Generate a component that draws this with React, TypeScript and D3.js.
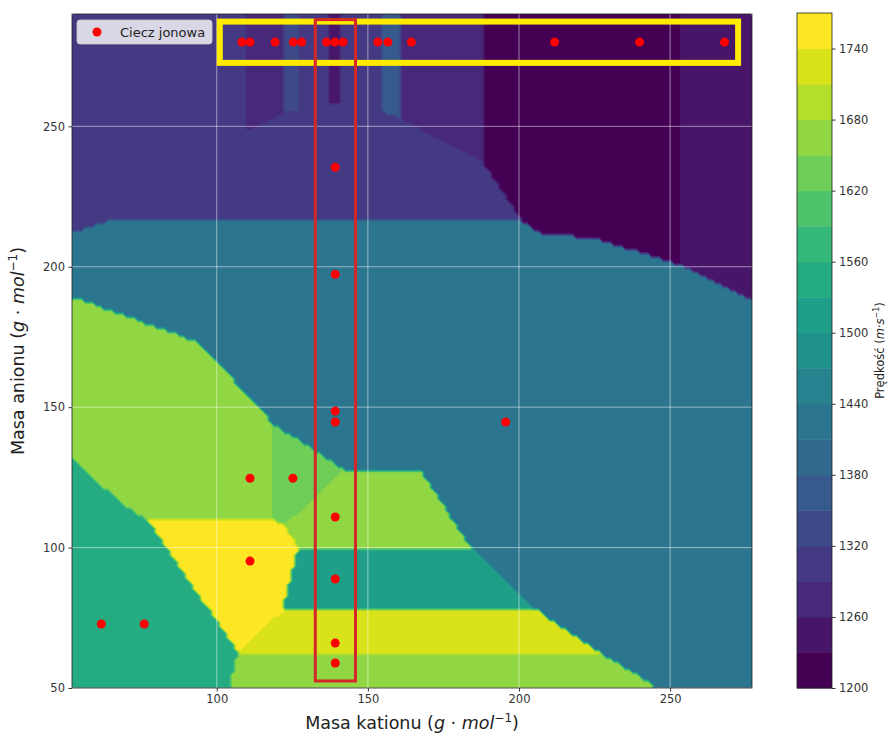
import React, { useEffect, useRef } from 'react';
import * as d3 from 'd3';

// ionic liquids: cation mass, anion mass, speed of sound
const cationMass = [
  108.3, 111.0, 119.3, 125.3, 128.1, 136.3, 139.1, 141.8, 153.3, 156.6, 164.4, 211.8, 239.9, 268.0,
  139.2, 139.2, 139.2, 139.2, 195.6, 139.2, 111.0, 125.2, 111.0, 139.2, 139.2, 139.2, 61.8, 76.0,
];
const anionMass = [
  280, 280, 280, 280, 280, 280, 280, 280, 280, 280, 280, 280, 280, 280,
  235.4, 197.3, 148.6, 144.7, 144.7, 110.9, 124.7, 124.7, 95.2, 88.8, 66.0, 58.9, 72.8, 72.8,
];
const speed = [
  1305, 1275, 1275, 1335, 1305, 1305, 1245, 1305, 1305, 1365, 1275, 1215, 1215, 1245,
  1305, 1425, 1425, 1425, 1425, 1665, 1665, 1635, 1755, 1515, 1725, 1665, 1545, 1545,
];

const levels = d3.range(1200, 1771, 30);
const colorbarTicks = [1200, 1260, 1320, 1380, 1440, 1500, 1560, 1620, 1680, 1740];
const xTicks = [100, 150, 200, 250];
const yTicks = [50, 100, 150, 200, 250];

// highlighted groups (data units)
const anionBox = { x0: 101, x1: 272.5, y0: 272.6, y1: 287.3 };
const cationBox = { x0: 132.6, x1: 145.9, y0: 52.5, y1: 288 };

const FONT = 'DejaVu Sans, sans-serif';

const App = () => {
  const ref = useRef<SVGSVGElement>(null);

  useEffect(() => {
    const svg = d3.select(ref.current);
    svg.selectAll('*').remove();

    const left = 72, right = 752, top = 14, bottom = 688;
    const x = d3.scaleLinear().domain([52.1, 277.1]).range([left, right]);
    const y = d3.scaleLinear().domain([50, 290]).range([bottom, top]);

    // nearest neighbour grid (like griddata method='nearest')
    const nx = 180, ny = 180;
    const values: number[] = new Array(nx * ny);
    for (let j = 0; j < ny; j++) {
      const yv = y.invert(top + ((j + 0.5) * (bottom - top)) / ny);
      for (let i = 0; i < nx; i++) {
        const xv = x.invert(left + ((i + 0.5) * (right - left)) / nx);
        let best = Infinity, v = speed[0];
        for (let k = 0; k < speed.length; k++) {
          const d = (cationMass[k] - xv) ** 2 + (anionMass[k] - yv) ** 2;
          if (d < best) { best = d; v = speed[k]; }
        }
        values[j * nx + i] = v;
      }
    }
    const bands = d3.contours().size([nx, ny]).thresholds(levels.slice(0, -1))(values);
    const color = (i: number) => d3.interpolateViridis(i / (levels.length - 2));

    svg.append('g')
      .attr('transform', `translate(${left},${top}) scale(${(right - left) / nx},${(bottom - top) / ny})`)
      .selectAll('path')
      .data(bands)
      .join('path')
      .attr('d', d3.geoPath())
      .attr('fill', (d, i) => color(i));

    // grid
    const grid = svg.append('g').attr('stroke', '#fff').attr('stroke-opacity', 0.5).attr('stroke-width', 1);
    xTicks.forEach(t => grid.append('line').attr('x1', x(t)).attr('x2', x(t)).attr('y1', top).attr('y2', bottom));
    yTicks.forEach(t => grid.append('line').attr('x1', left).attr('x2', right).attr('y1', y(t)).attr('y2', y(t)));

    // highlight boxes
    svg.append('rect')
      .attr('x', x(anionBox.x0)).attr('y', y(anionBox.y1))
      .attr('width', x(anionBox.x1) - x(anionBox.x0)).attr('height', y(anionBox.y0) - y(anionBox.y1))
      .attr('fill', 'none').attr('stroke', '#ffea00').attr('stroke-width', 6);
    svg.append('rect')
      .attr('x', x(cationBox.x0)).attr('y', y(cationBox.y1))
      .attr('width', x(cationBox.x1) - x(cationBox.x0)).attr('height', y(cationBox.y0) - y(cationBox.y1))
      .attr('fill', 'none').attr('stroke', '#d62728').attr('stroke-width', 3);

    // points
    svg.append('g')
      .selectAll('circle')
      .data(speed.map((s, k) => k))
      .join('circle')
      .attr('cx', k => x(cationMass[k]))
      .attr('cy', k => y(anionMass[k]))
      .attr('r', 4.5)
      .attr('fill', 'red');

    // spines
    svg.append('rect')
      .attr('x', left).attr('y', top).attr('width', right - left).attr('height', bottom - top)
      .attr('fill', 'none').attr('stroke', '#222').attr('stroke-width', 0.8);

    // axes
    const xAxis = svg.append('g').attr('transform', `translate(0,${bottom})`)
      .call(d3.axisBottom(x).tickValues(xTicks).tickSize(3.5).tickPadding(3.5));
    const yAxis = svg.append('g').attr('transform', `translate(${left},0)`)
      .call(d3.axisLeft(y).tickValues(yTicks).tickSize(3.5).tickPadding(3.5));
    [xAxis, yAxis].forEach(a => {
      a.select('.domain').remove();
      a.selectAll('text').attr('font-family', FONT).attr('font-size', 11.5).attr('fill', '#333');
      a.selectAll('line').attr('stroke', '#333');
    });

    const xl = svg.append('text').attr('x', (left + right) / 2).attr('y', 729)
      .attr('text-anchor', 'middle').attr('font-family', FONT).attr('font-size', 17.5).attr('fill', '#222');
    xl.append('tspan').text('Masa kationu (');
    xl.append('tspan').attr('font-style', 'italic').text('g');
    xl.append('tspan').text(' · ');
    xl.append('tspan').attr('font-style', 'italic').text('mol');
    xl.append('tspan').attr('font-size', 12).attr('dy', -7).text('−1');
    xl.append('tspan').attr('dy', 7).text(')');

    const yl = svg.append('text').attr('transform', `translate(24,${(top + bottom) / 2}) rotate(-90)`)
      .attr('text-anchor', 'middle').attr('font-family', FONT).attr('font-size', 17.5).attr('fill', '#222');
    yl.append('tspan').text('Masa anionu (');
    yl.append('tspan').attr('font-style', 'italic').text('g');
    yl.append('tspan').text(' · ');
    yl.append('tspan').attr('font-style', 'italic').text('mol');
    yl.append('tspan').attr('font-size', 12).attr('dy', -7).text('−1');
    yl.append('tspan').attr('dy', 7).text(')');

    // legend
    const lg = svg.append('g');
    lg.append('rect').attr('x', 77).attr('y', 20).attr('width', 135).attr('height', 24).attr('rx', 3)
      .attr('fill', '#fff').attr('fill-opacity', 0.8).attr('stroke', '#ccc').attr('stroke-width', 0.8);
    lg.append('circle').attr('cx', 97).attr('cy', 32).attr('r', 4.5).attr('fill', 'red');
    lg.append('text').attr('x', 120).attr('y', 36.5).attr('font-family', FONT).attr('font-size', 13)
      .attr('fill', '#222').text('Ciecz jonowa');

    // colorbar
    const cbX = 797, cbW = 35;
    const yc = d3.scaleLinear().domain([levels[0], levels[levels.length - 1]]).range([bottom, 13]);
    svg.append('g').selectAll('rect')
      .data(levels.slice(0, -1))
      .join('rect')
      .attr('x', cbX).attr('width', cbW)
      .attr('y', (d, i) => yc(levels[i + 1]))
      .attr('height', (d, i) => yc(levels[i]) - yc(levels[i + 1]) + 0.5)
      .attr('fill', (d, i) => color(i));
    svg.append('rect').attr('x', cbX).attr('y', 13).attr('width', cbW).attr('height', bottom - 13)
      .attr('fill', 'none').attr('stroke', '#222').attr('stroke-width', 0.8);
    const cAxis = svg.append('g').attr('transform', `translate(${cbX + cbW},0)`)
      .call(d3.axisRight(yc).tickValues(colorbarTicks).tickFormat(d3.format('d')).tickSize(3.5).tickPadding(3.5));
    cAxis.select('.domain').remove();
    cAxis.selectAll('text').attr('font-family', FONT).attr('font-size', 11.5).attr('fill', '#333');
    cAxis.selectAll('line').attr('stroke', '#333');

    const cl = svg.append('text').attr('transform', `translate(884,${(13 + bottom) / 2}) rotate(-90)`)
      .attr('text-anchor', 'middle').attr('font-family', FONT).attr('font-size', 11.5).attr('fill', '#222');
    cl.append('tspan').text('Prędkość (');
    cl.append('tspan').attr('font-style', 'italic').text('m');
    cl.append('tspan').text('·');
    cl.append('tspan').attr('font-style', 'italic').text('s');
    cl.append('tspan').attr('font-size', 8).attr('dy', -5).text('−1');
    cl.append('tspan').attr('dy', 5).text(')');
  }, []);

  return (
    <svg ref={ref} width={894} height={740}
      style={{ position: 'absolute', left: 0, top: 0, background: '#fff' }} />
  );
};

export default App;
